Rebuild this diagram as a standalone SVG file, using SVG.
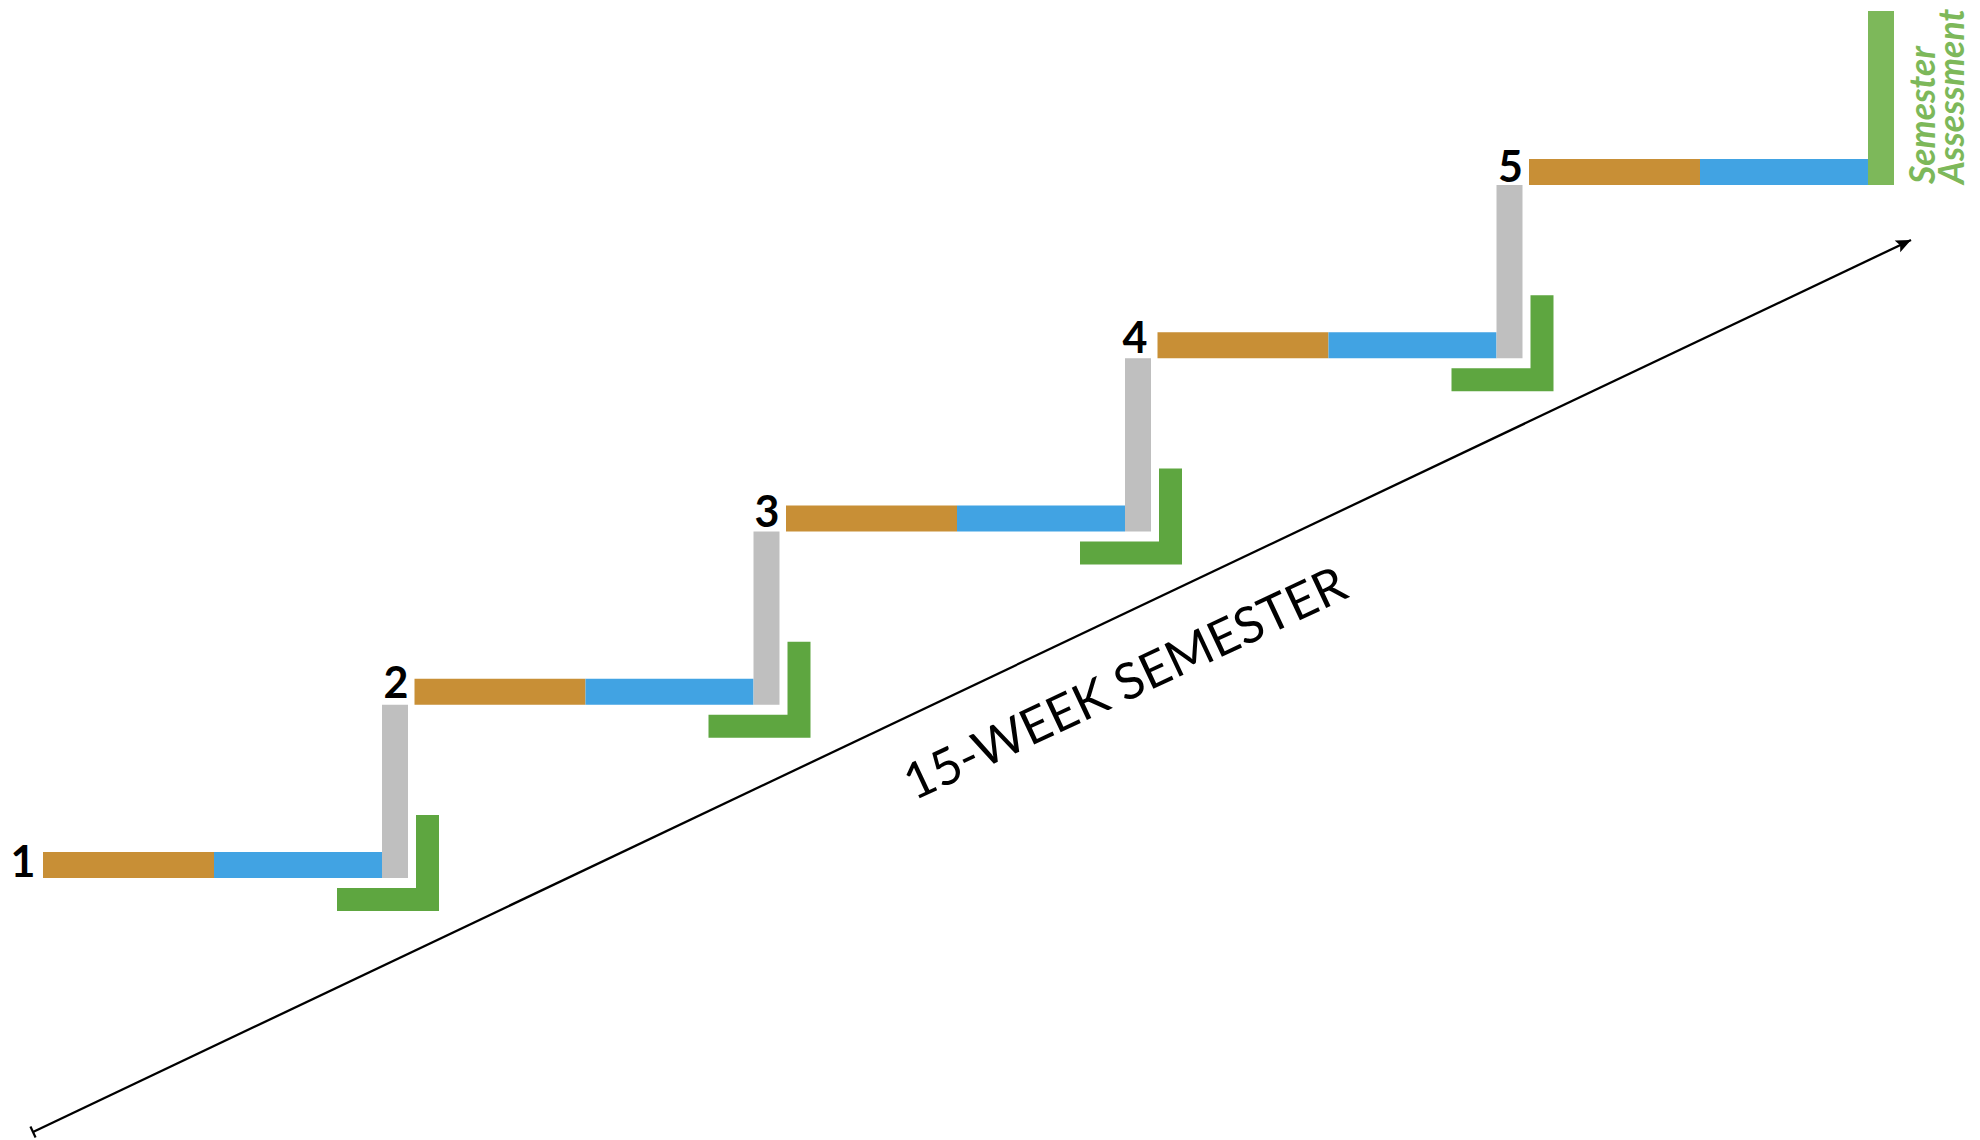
<svg xmlns="http://www.w3.org/2000/svg" width="1980" height="1140" viewBox="0 0 1980 1140">
<style>
.or{fill:#C88F36}.bl{fill:#41A3E3}.gr{fill:#BFBFBF}.gn{fill:#5EA640}.lg{fill:#7DB85A}
.num{font-family:Lato,"Liberation Sans",sans-serif;font-weight:700;font-size:43px;fill:#000;text-anchor:middle}
.sa{font-family:Lato,"Liberation Sans",sans-serif;font-weight:700;font-style:italic;font-size:35.5px;fill:#7DB85A}
.ax{font-family:Lato,"Liberation Sans",sans-serif;font-size:50px;fill:#000}
</style>
<defs>
<marker id="ah" markerUnits="userSpaceOnUse" markerWidth="20" markerHeight="16" viewBox="-16 -8 18 16" refX="0" refY="0" orient="auto">
<path d="M0,0 L-15,-6.5 L-12,0 L-15,6.5 Z" fill="#000"/>
</marker>
<marker id="tk" markerUnits="userSpaceOnUse" markerWidth="4" markerHeight="14" viewBox="-2 -7 4 14" refX="0" refY="0" orient="auto">
<path d="M0,-6 V6" stroke="#000" stroke-width="2.2"/>
</marker>
</defs>
<g id="connectors">
<line x1="33" y1="1132" x2="1911" y2="240" stroke="#000" stroke-width="2.3" marker-start="url(#tk)" marker-end="url(#ah)"/>
</g>
<g id="step1" transform="translate(43,852)">
<rect class="or" x="0" y="0" width="171" height="26"/>
<rect class="bl" x="171" y="0" width="168" height="26"/>
<rect class="gr" x="339" y="-147.25" width="26" height="173.25"/>
<path class="gn" d="M373,-37 H396 V59 H294 V36 H373 Z"/>
<text class="num" x="-20" y="25">1</text>
</g>
<g id="step2" transform="translate(414.5,678.75)">
<rect class="or" x="0" y="0" width="171" height="26"/>
<rect class="bl" x="171" y="0" width="168" height="26"/>
<rect class="gr" x="339" y="-147.25" width="26" height="173.25"/>
<path class="gn" d="M373,-37 H396 V59 H294 V36 H373 Z"/>
<text class="num" x="-18.5" y="19.25">2</text>
</g>
<g id="step3" transform="translate(786,505.5)">
<rect class="or" x="0" y="0" width="171" height="26"/>
<rect class="bl" x="171" y="0" width="168" height="26"/>
<rect class="gr" x="339" y="-147.25" width="26" height="173.25"/>
<path class="gn" d="M373,-37 H396 V59 H294 V36 H373 Z"/>
<text class="num" x="-19" y="21.5">3</text>
</g>
<g id="step4" transform="translate(1157.5,332.25)">
<rect class="or" x="0" y="0" width="171" height="26"/>
<rect class="bl" x="171" y="0" width="168" height="26"/>
<rect class="gr" x="339" y="-147.25" width="26" height="173.25"/>
<path class="gn" d="M373,-37 H396 V59 H294 V36 H373 Z"/>
<text class="num" x="-22.5" y="20.75">4</text>
</g>
<g id="step5" transform="translate(1529,159)">
<rect class="or" x="0" y="0" width="171" height="26"/>
<rect class="bl" x="171" y="0" width="168" height="26"/>
<text class="num" x="-18.5" y="23">5</text>
</g>
<g id="assessment">
<rect class="lg" x="1868" y="11" width="26" height="174"/>
<text class="sa" transform="translate(1935,184) rotate(-90)">Semester</text>
<text class="sa" transform="translate(1964,184) rotate(-90)">Assessment</text>
</g>
<g id="axis-label">
<text class="ax" transform="translate(914,801) rotate(-25.1)" textLength="482" lengthAdjust="spacingAndGlyphs">15-WEEK SEMESTER</text>
</g>
</svg>
